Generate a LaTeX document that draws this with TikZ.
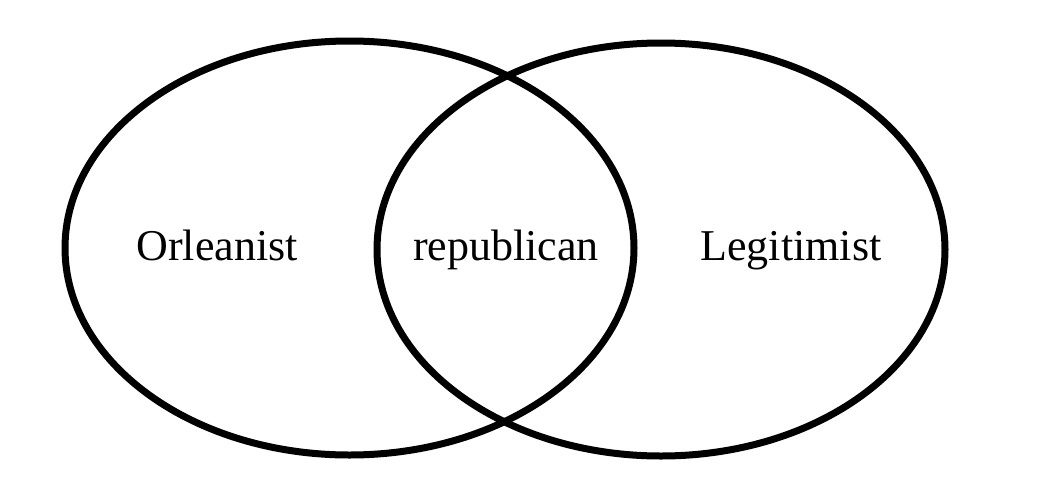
\documentclass[tikz,border=0pt]{standalone}
\usepackage{fontspec}
\setmainfont{Liberation Serif}
\begin{document}
\begin{tikzpicture}[x=1pt,y=-1pt,
  ring/.style={draw=black,line width=7pt},
  lbl/.style={font=\fontsize{44}{50}\selectfont,anchor=base,inner sep=0pt}]
\useasboundingbox[fill=white] (0,0) rectangle (1053,485);
\draw[ring] (349.5,248) ellipse [x radius=284.5, y radius=207];
\draw[ring] (661,249.5) ellipse [x radius=284, y radius=206.5];
\node[lbl] (orl) at (217,260) {Orleanist};
\node[lbl] (rep) at (506,260) {republican};
\node[lbl] (leg) at (791,260) {Legitimist};
\end{tikzpicture}
\end{document}
